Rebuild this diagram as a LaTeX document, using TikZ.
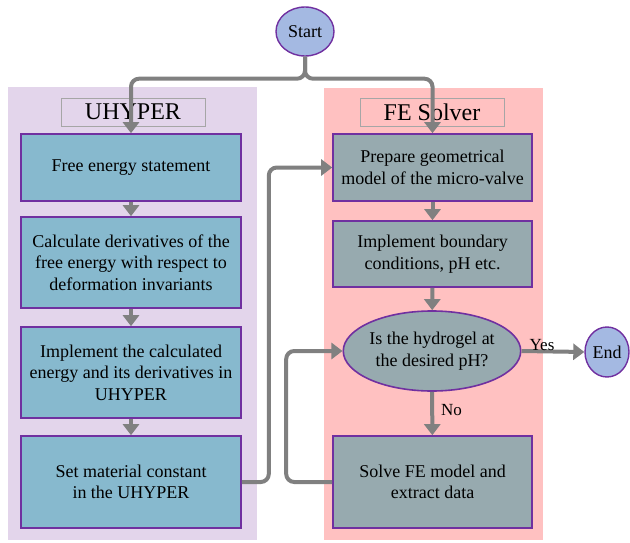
\documentclass[tikz,border=0pt]{standalone}
\usepackage{fontspec}
\setmainfont{Liberation Serif}
\usetikzlibrary{arrows.meta,shapes.geometric}

\definecolor{lavender}{HTML}{E3D5EB}
\definecolor{pinkpanel}{HTML}{FFC1C1}
\definecolor{bluebox}{HTML}{87B9CE}
\definecolor{graybox}{HTML}{97AAAF}
\definecolor{termfill}{HTML}{A4B9E2}
\definecolor{edge}{HTML}{7030A0}
\definecolor{flowgray}{HTML}{808080}
\definecolor{tagline}{HTML}{A6A6A6}

\tikzset{
  tagbox/.style={draw=tagline, line width=0.8pt, minimum width=144pt, minimum height=28pt,
    inner sep=0pt, font=\fontsize{24}{26}\selectfont},
  stepbox/.style={draw=edge, line width=1.6pt, align=center,
    inner sep=2pt, font=\fontsize{18}{21.5}\selectfont},
  leftbox/.style={stepbox, fill=bluebox, minimum width=220pt},
  rightbox/.style={stepbox, fill=graybox, minimum width=199pt},
  terminal/.style={ellipse, draw=edge, line width=1.4pt, fill=termfill, inner sep=0pt,
    font=\fontsize{18}{20}\selectfont},
  decision/.style={ellipse, draw=edge, line width=1.6pt, fill=graybox, inner sep=0pt,
    minimum width=174pt, minimum height=80pt, align=center,
    font=\fontsize{18}{21.5}\selectfont},
  flow/.style={draw=flowgray, line width=4pt, rounded corners=8pt,
    -{Triangle[width=16pt,length=11pt]}},
  flowlabel/.style={font=\fontsize{17}{19}\selectfont, inner sep=0pt},
}

\begin{document}
\begin{tikzpicture}[x=1pt,y=-1pt]
  \useasboundingbox (0,0) rectangle (630,543);

  % background panels
  \fill[lavender] (8,87) rectangle (257,540);
  \fill[pinkpanel] (324,88) rectangle (543,540);

  % panel titles
  \node[tagbox] (tagU) at (133,112) {UHYPER};
  \node[tagbox] (tagF) at (432,112) {FE Solver};

  % terminals
  \node[terminal, minimum width=58pt, minimum height=49pt] (start) at (305,31.5) {Start};
  \node[terminal, minimum width=44pt, minimum height=50pt] (finish) at (607,352) {End};

  % UHYPER steps
  \node[leftbox, minimum height=67pt] (b1) at (131,167.5) {Free energy statement};
  \node[leftbox, minimum height=91pt] (b2) at (131,262.5)
    {Calculate derivatives of the\\free energy with respect to\\deformation invariants};
  \node[leftbox, minimum height=91pt] (b3) at (131,372.5)
    {Implement the calculated\\energy and its derivatives in\\UHYPER};
  \node[leftbox, minimum height=92pt] (b4) at (131,482)
    {Set material constant\\in the UHYPER};

  % FE solver steps
  \node[rightbox, minimum height=67pt] (r1) at (432.5,167.5)
    {Prepare geometrical\\model of the micro-valve};
  \node[rightbox, minimum height=66pt] (r2) at (432.5,254)
    {Implement boundary\\conditions, pH etc.};
  \node[decision] (q) at (432,351) {Is the hydrogel at\\the desired pH?};
  \node[rightbox, minimum height=92pt] (r4) at (432.5,482)
    {Solve FE model and\\extract data};

  % connectors
  \draw[flow] (start.south) -- ++(0,22) -| (b1.north);
  \draw[flow] (start.south) -- ++(0,22) -| (r1.north);
  \draw[flow] (b1) -- (b2);
  \draw[flow] (b2) -- (b3);
  \draw[flow] (b3) -- (b4);
  \draw[flow] (b4.east) -- ++(27,0) |- (r1.west);
  \draw[flow] (r1) -- (r2);
  \draw[flow] (r2) -- (q);
  \draw[flow] (q) -- (r4);
  \draw[flow] (r4.west) -- ++(-46,0) |- (q.west);
  \draw[flow] (q.east) -- (finish.west);

  % branch labels
  \node[flowlabel, anchor=base] (yes) at (542,350) {Yes};
  \node[flowlabel, anchor=base west] (no) at (441,415) {No};
\end{tikzpicture}
\end{document}
